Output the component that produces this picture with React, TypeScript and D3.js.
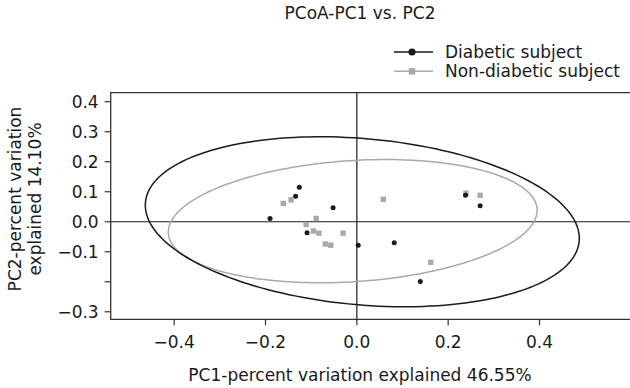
import React from 'react';
import * as d3 from 'd3';

// PC1 / PC2 coordinates
const diabeticPoints: [number, number][] = [
  [-0.126, 0.115],
  [-0.134, 0.085],
  [-0.052, 0.047],
  [-0.19, 0.011],
  [-0.109, -0.037],
  [0.003, -0.078],
  [0.082, -0.07],
  [0.139, -0.199],
  [0.238, 0.088],
  [0.27, 0.053],
];

const nonDiabeticPoints: [number, number][] = [
  [-0.161, 0.061],
  [-0.144, 0.073],
  [-0.089, 0.011],
  [-0.111, -0.009],
  [-0.095, -0.031],
  [-0.083, -0.038],
  [-0.03, -0.038],
  [-0.069, -0.074],
  [-0.057, -0.078],
  [0.058, 0.075],
  [0.162, -0.135],
  [0.239, 0.095],
  [0.27, 0.088],
];

// confidence ellipses: centre, semi axes, rotation (degrees, data space)
const diabeticEllipse = { cx: 0.012, cy: 0.0, rx: 0.48, ry: 0.275, angle: -9.9 };
const nonDiabeticEllipse = { cx: -0.009, cy: 0.002, rx: 0.406, ry: 0.201, angle: 6.8 };

const xTicks = [-0.4, -0.2, 0, 0.2, 0.4];
const yTicks = [0.4, 0.3, 0.2, 0.1, 0, -0.1, -0.2, -0.3];
const yTickLabels = ['0.4', '0.3', '0.2', '0.1', '0.0', '\u22120.1', '', '\u22120.3'];
const xTickLabels = ['\u22120.4', '\u22120.2', '0.0', '0.2', '0.4'];

const seriesNames = ['Diabetic subject', 'Non-diabetic subject'];

const W = 630;
const H = 388;
const FONT = '"DejaVu Sans", Arial, sans-serif';
const GRAY = '#a9a9a9';
const DARK = '#1a1a1a';

type Ellipse = typeof diabeticEllipse;

const ellipsePoints = (e: Ellipse): [number, number][] => {
  const rot = (e.angle * Math.PI) / 180;
  return d3.range(0, 361, 2).map(deg => {
    const t = (deg * Math.PI) / 180;
    const dx = e.rx * Math.cos(t);
    const dy = e.ry * Math.sin(t);
    return [e.cx + dx * Math.cos(rot) - dy * Math.sin(rot), e.cy + dx * Math.sin(rot) + dy * Math.cos(rot)];
  });
};

const App: React.FC = () => {
  const left = 110.7;
  const right = 629;
  const top = 92.7;
  const bottom = 319.3;

  const x = d3.scaleLinear().domain([-0.539, 0.596]).range([left, right]);
  const y = d3.scaleLinear().domain([-0.325, 0.43]).range([bottom, top]);

  const line = d3
    .line<[number, number]>()
    .x(d => x(d[0]))
    .y(d => y(d[1]))
    .curve(d3.curveLinearClosed);

  const sq = 5.4;

  return (
    <svg
      width={W}
      height={H}
      style={{ position: 'absolute', left: 0, top: 0, background: '#fff' }}
      fontFamily={FONT}
    >
      {/* title */}
      <text x={360} y={19} fontSize={17} textAnchor="middle" fill={DARK}>
        PCoA-PC1 vs. PC2
      </text>

      {/* legend */}
      <g>
        <line x1={394} x2={433} y1={52} y2={52} stroke={DARK} strokeWidth={1.5} />
        <circle cx={412} cy={52} r={3.6} fill={DARK} />
        <text x={445} y={58} fontSize={17} fill={DARK}>
          {seriesNames[0]}
        </text>
        <line x1={394} x2={433} y1={71.3} y2={71.3} stroke={GRAY} strokeWidth={1.5} />
        <rect x={412 - 3.2} y={71.3 - 3.2} width={6.4} height={6.4} fill={GRAY} />
        <text x={445} y={77.3} fontSize={17} fill={DARK}>
          {seriesNames[1]}
        </text>
      </g>

      {/* zero lines */}
      <line x1={left} x2={W} y1={y(0)} y2={y(0)} stroke={DARK} strokeWidth={1.2} />
      <line x1={x(0)} x2={x(0)} y1={top} y2={bottom} stroke={DARK} strokeWidth={1.2} />

      {/* ellipses */}
      <path d={line(ellipsePoints(nonDiabeticEllipse)) || ''} fill="none" stroke={GRAY} strokeWidth={1.5} />
      <path d={line(ellipsePoints(diabeticEllipse)) || ''} fill="none" stroke={DARK} strokeWidth={1.5} />

      {/* points */}
      {nonDiabeticPoints.map((d, i) => (
        <rect key={`n${i}`} x={x(d[0]) - sq / 2} y={y(d[1]) - sq / 2} width={sq} height={sq} fill={GRAY} />
      ))}
      {diabeticPoints.map((d, i) => (
        <circle key={`d${i}`} cx={x(d[0])} cy={y(d[1])} r={2.5} fill={DARK} />
      ))}

      {/* frame (right side falls off the canvas) */}
      <path
        d={`M${W + 2},${top}H${left}V${bottom}H${W + 2}`}
        fill="none"
        stroke="#333"
        strokeWidth={1.3}
      />

      {/* x axis */}
      {xTicks.map((t, i) => (
        <g key={`xt${i}`}>
          <line x1={x(t)} x2={x(t)} y1={bottom} y2={bottom + 6} stroke="#333" strokeWidth={1.2} />
          <text x={x(t)} y={bottom + 29} fontSize={17} textAnchor="middle" fill={DARK}>
            {xTickLabels[i]}
          </text>
        </g>
      ))}
      <text x={360} y={380.5} fontSize={17} textAnchor="middle" fill={DARK}>
        PC1-percent variation explained 46.55%
      </text>

      {/* y axis */}
      {yTicks.map((t, i) => (
        <g key={`yt${i}`}>
          <line x1={left - 6} x2={left} y1={y(t)} y2={y(t)} stroke="#333" strokeWidth={1.2} />
          <text x={left - 12} y={y(t)} dy="0.36em" fontSize={17} textAnchor="end" fill={DARK}>
            {yTickLabels[i]}
          </text>
        </g>
      ))}
      <text transform="translate(20.7,199) rotate(-90)" fontSize={17} textAnchor="middle" fill={DARK}>
        PC2-percent variation
      </text>
      <text transform="translate(41,199) rotate(-90)" fontSize={17} textAnchor="middle" fill={DARK}>
        explained 14.10%
      </text>
    </svg>
  );
};

export default App;
